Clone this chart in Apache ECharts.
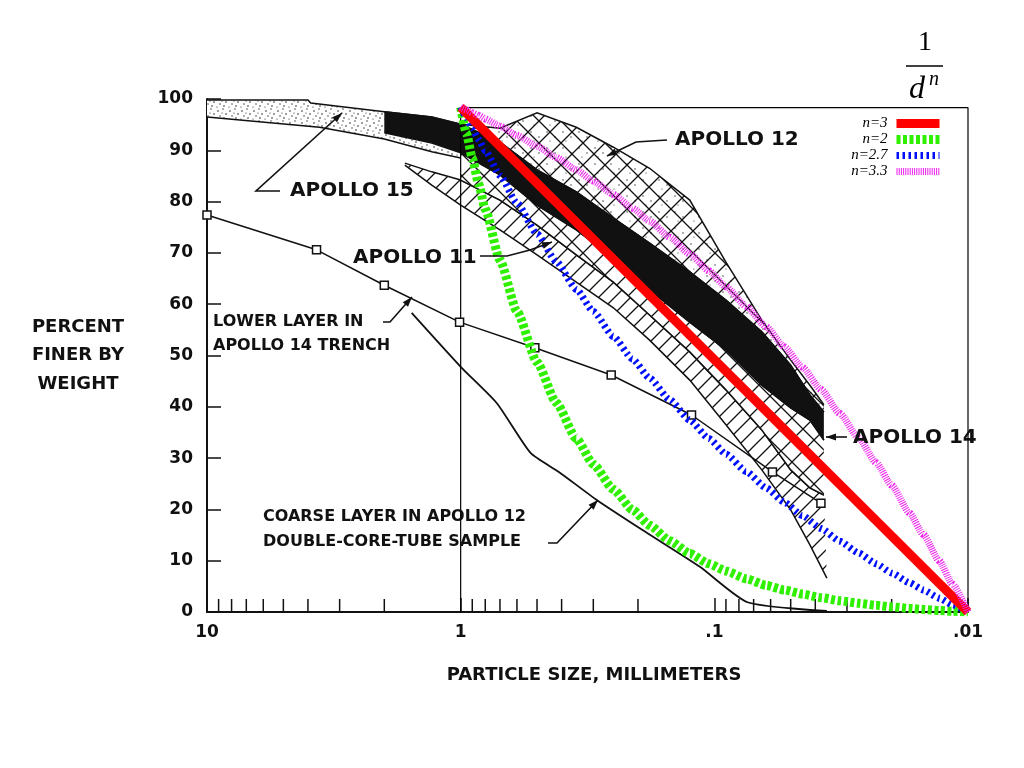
<!DOCTYPE html>
<html>
<head>
<meta charset="utf-8">
<script src="https://cdn.jsdelivr.net/npm/echarts@6/dist/echarts.min.js"></script>
<style>html,body{margin:0;background:#fff}#chart{width:1024px;height:768px}</style>
</head>
<body>
<div id="chart"></div>
<script>
// particle size (mm) on a reversed log axis, percent finer by weight on y
const xTickValues = [10, 1, 0.1, 0.01];
const xTickText = ["10", "1", ".1", ".01"];
const minorTicks = [9, 8, 7, 6, 5, 4, 3, 2, 0.9, 0.8, 0.7, 0.6, 0.5, 0.4, 0.3, 0.2, 0.09, 0.08, 0.07, 0.06, 0.05, 0.04, 0.03, 0.02];

// scanned curves
const lowerLayer = [[10, 77.4], [3.7, 70.6], [2, 63.7], [1.01, 56.5], [0.51, 51.5], [0.255, 46.2], [0.123, 38.4], [0.059, 27.3], [0.038, 21.2]];
const coarseLayer = [[1.56, 58.3], [1, 47.8], [0.72, 40.7], [0.53, 31.0], [0.41, 27.3], [0.29, 21.8], [0.184, 15.4], [0.114, 8.8], [0.074, 1.9], [0.036, 0.2]];

// scanned bands (upper / lower edges)
const apollo15Upper = [[10, 99.8], [4, 99.8], [3.9, 99.2], [2, 97.5], [1.3, 96.5], [1, 95.1]];
const apollo15Lower = [[10, 96.5], [3.6, 94.5], [2, 92.2], [1.3, 89.7], [1, 88.5]];
const apollo14Upper = [[2, 97.5], [1.3, 96.5], [1, 95.1], [0.7, 91.6], [0.5, 86.2], [0.35, 81.9], [0.25, 76.8], [0.18, 71.9], [0.125, 66.3], [0.09, 60.8], [0.065, 54.6], [0.05, 48.1], [0.042, 42.3], [0.037, 39.0]];
const apollo14Lower = [[2, 93.4], [1.3, 91.4], [1, 89.5], [0.7, 85.2], [0.5, 79.3], [0.35, 74.5], [0.25, 69.0], [0.18, 62.8], [0.125, 56.5], [0.09, 51.1], [0.065, 44.2], [0.05, 39.8], [0.042, 37.4], [0.037, 33.5]];
const apollo12Upper = [[1, 95.1], [0.7, 94.3], [0.5, 97.3], [0.35, 94.5], [0.25, 90.6], [0.18, 86.5], [0.125, 80.3], [0.09, 68.2], [0.065, 56.9], [0.05, 49.1], [0.042, 44.2], [0.037, 40.4]];
const apollo12Lower = [[1, 84.2], [0.7, 80.3], [0.5, 75.4], [0.35, 69.6], [0.25, 64.3], [0.18, 57.9], [0.125, 50.7], [0.09, 43.3], [0.065, 35.5], [0.05, 27.7], [0.042, 24.2], [0.037, 22.8]];
const apollo11Upper = [[1.66, 87.5], [1.3, 85.8], [1, 84.2], [0.7, 80.3], [0.5, 75.4], [0.35, 69.6], [0.25, 64.3], [0.18, 57.9], [0.125, 50.7], [0.09, 43.3], [0.065, 35.5], [0.05, 27.7], [0.042, 24.2], [0.037, 22.8]];
const apollo11Lower = [[1.66, 87.1], [1.3, 83.2], [1, 79.3], [0.7, 74.5], [0.5, 69.6], [0.35, 64.3], [0.25, 59.3], [0.18, 53.0], [0.125, 45.2], [0.09, 36.5], [0.065, 27.7], [0.05, 19.9], [0.042, 13.1], [0.036, 6.6]];

// overlaid 1/d^n curves
const overlaySizes = [1, 0.95, 0.9, 0.85, 0.8, 0.7, 0.6, 0.5, 0.42, 0.35, 0.3, 0.25, 0.21, 0.18, 0.15, 0.125, 0.105, 0.09, 0.075, 0.0625, 0.053, 0.045, 0.038, 0.032, 0.027, 0.023, 0.02, 0.017, 0.015, 0.013, 0.0115, 0.01];
const n2Values = [98.4, 93.4, 88.5, 83.5, 78.5, 68.6, 58.6, 48.7, 40.8, 33.8, 28.8, 23.9, 19.9, 16.9, 13.9, 11.4, 9.4, 8.0, 6.5, 5.2, 4.3, 3.5, 2.8, 2.2, 1.7, 1.3, 1.0, 0.7, 0.5, 0.3, 0.15, 0];
const n27Values = [98.4, 96.4, 94.3, 92.1, 89.9, 85.1, 79.7, 73.7, 68.3, 62.9, 58.6, 53.7, 49.3, 45.6, 41.4, 37.4, 33.8, 30.8, 27.4, 24.2, 21.4, 18.8, 16.3, 13.8, 11.5, 9.4, 7.6, 5.7, 4.3, 2.7, 1.4, 0];
const n33Values = [98.4, 97.9, 97.3, 96.8, 96.1, 94.7, 92.9, 90.8, 88.6, 86.2, 84.0, 81.4, 78.7, 76.2, 73.1, 69.8, 66.5, 63.4, 59.6, 55.6, 51.7, 47.7, 43.4, 38.7, 33.9, 29.1, 24.7, 19.3, 15.1, 10.0, 5.4, 0];
const n3Sizes = [1, 0.01];
const n3Values = [98.4, 0];
const overlayBox = [[1, 0], [1, 98.3], [0.01, 98.3], [0.01, 0]];

const INK = "#111";
const LABEL_FONT = '"DejaVu Sans", sans-serif';

// fill textures
function makeTile(size, draw, bg) {
  const c = document.createElement("canvas");
  c.width = c.height = size;
  const g = c.getContext("2d");
  if (bg) { g.fillStyle = bg; g.fillRect(0, 0, size, size); }
  draw(g, size);
  return { image: c, repeat: "repeat" };
}
function dots(list) {
  return (g) => {
    g.fillStyle = "#222";
    list.forEach(([x, y, r]) => { g.beginPath(); g.arc(x, y, r, 0, Math.PI * 2); g.fill(); });
  };
}
function hatch(up, down) {
  return (g, s) => {
    g.strokeStyle = INK; g.lineWidth = 1.3; g.beginPath();
    if (up) { g.moveTo(0, s); g.lineTo(s, 0); g.moveTo(-1, 1); g.lineTo(1, -1); g.moveTo(s - 1, s + 1); g.lineTo(s + 1, s - 1); }
    if (down) { g.moveTo(0, 0); g.lineTo(s, s); g.moveTo(s - 1, -1); g.lineTo(s + 1, 1); g.moveTo(-1, s - 1); g.lineTo(1, s + 1); }
    g.stroke();
  };
}
const denseDots = makeTile(12, dots([[2, 3, 0.8], [7, 1, 0.7], [10, 6, 0.8], [4, 8, 0.7], [8, 10, 0.8], [1, 11, 0.6], [6, 5, 0.6]]), "#fff");
const lightDots = makeTile(16, dots([[3, 4, 0.7], [11, 9, 0.7], [6, 13, 0.6]]), "#fff");
const gridHatch = makeTile(22, hatch(true, true));
const diagHatch = makeTile(16, hatch(true, false));

function band(upper, lower, fills, outline) {
  return {
    type: "custom",
    silent: true,
    data: [[1, 50]],
    renderItem: (params, api) => {
      const up = upper.map((p) => api.coord(p));
      const lo = lower.map((p) => api.coord(p));
      const poly = up.concat(lo.slice().reverse());
      const children = fills.map((f) => ({ type: "polygon", shape: { points: poly }, style: { fill: f, stroke: null } }));
      if (outline) {
        children.push({ type: "polyline", shape: { points: up }, style: { stroke: INK, lineWidth: 1.5, fill: null } });
        children.push({ type: "polyline", shape: { points: lo }, style: { stroke: INK, lineWidth: 1.5, fill: null } });
      }
      return { type: "group", children };
    },
  };
}

function zip(xs, ys) { return xs.map((x, i) => [x, ys[i]]); }

function overlay(name, color, width, type, xs, ys) {
  return {
    name, type: "line", data: zip(xs, ys), symbol: "none", smooth: 0.2, smoothMonotone: "x",
    lineStyle: { color, width, type, cap: "butt" }, itemStyle: { color }, z: 5,
  };
}

function text(str, x, y, size, align) {
  return { type: "text", x, y, z: 20, style: { text: str, font: "bold " + size + "px " + LABEL_FONT, fill: INK, align: align || "left", verticalAlign: "middle" } };
}
function arrow(points) {
  const [x1, y1] = points[points.length - 2];
  const [x2, y2] = points[points.length - 1];
  const a = Math.atan2(y2 - y1, x2 - x1), L = 10, W = 3.5;
  const head = [[x2, y2],
    [x2 - L * Math.cos(a) + W * Math.sin(a), y2 - L * Math.sin(a) - W * Math.cos(a)],
    [x2 - L * Math.cos(a) - W * Math.sin(a), y2 - L * Math.sin(a) + W * Math.cos(a)]];
  return [
    { type: "polyline", z: 20, shape: { points }, style: { stroke: INK, lineWidth: 1.6, fill: null } },
    { type: "polygon", z: 20, shape: { points: head }, style: { fill: INK } },
  ];
}

const chart = echarts.init(document.getElementById("chart"));
chart.setOption({
  animation: false,
  backgroundColor: "#fff",
  grid: { left: 207, right: 56, top: 99, bottom: 156 },
  legend: {
    data: ["n=3", "n=2", "n=2.7", "n=3.3"],
    orient: "vertical", right: 75, top: 111, align: "right",
    itemWidth: 43, itemHeight: 10, itemGap: 1,
    itemStyle: { opacity: 0 },
    lineStyle: { width: "inherit" },
    textStyle: { fontFamily: '"Liberation Serif", serif', fontStyle: "italic", fontSize: 15, lineHeight: 13, color: "#000", padding: [0, 4, 0, 0] },
  },
  xAxis: {
    type: "log", logBase: 10, min: 0.01, max: 10, inverse: true,
    axisLine: { lineStyle: { color: INK, width: 2 } },
    axisTick: { inside: true, length: 14, lineStyle: { color: INK, width: 1.5 } },
    splitLine: { show: false },
    axisLabel: {
      margin: 12, color: INK, fontFamily: LABEL_FONT, fontWeight: "bold", fontSize: 17,
      formatter: (v) => {
        let best = 0;
        xTickValues.forEach((t, i) => { if (Math.abs(Math.log10(t) - Math.log10(v)) < Math.abs(Math.log10(xTickValues[best]) - Math.log10(v))) best = i; });
        return xTickText[best];
      },
    },
  },
  yAxis: {
    type: "value", min: 0, max: 100, interval: 10,
    axisLine: { show: true, lineStyle: { color: INK, width: 2 } },
    axisTick: { show: true, inside: true, length: 14, lineStyle: { color: INK, width: 1.5 } },
    splitLine: { show: false },
    axisLabel: { margin: 14, color: INK, fontFamily: LABEL_FONT, fontWeight: "bold", fontSize: 17 },
  },
  series: [
    band(apollo11Upper, apollo11Lower, ["#fff", diagHatch], true),
    band(apollo14Lower.filter((p) => p[0] <= 1), apollo12Lower, ["#fff", gridHatch], true),
    band(apollo12Upper, apollo14Upper.filter((p) => p[0] <= 1), [lightDots, gridHatch], true),
    band(apollo15Upper, apollo15Lower, [denseDots], true),
    band(apollo14Upper, apollo14Lower, [INK], true),
    {
      type: "custom", silent: true, data: minorTicks.map((v) => [v, 0]), z: 3,
      renderItem: (params, api) => {
        const p = api.coord([api.value(0), 0]);
        return { type: "line", shape: { x1: p[0], y1: p[1], x2: p[0], y2: p[1] - 13 }, style: { stroke: INK, lineWidth: 1.5 } };
      },
    },
    { type: "line", data: lowerLayer, symbol: "rect", symbolSize: 8, lineStyle: { color: INK, width: 1.5 }, itemStyle: { color: "#fff", borderColor: INK, borderWidth: 1.5 }, z: 4 },
    { type: "line", data: coarseLayer, symbol: "none", smooth: 0.2, lineStyle: { color: INK, width: 1.8 }, z: 4 },
    { type: "line", data: overlayBox, symbol: "none", lineStyle: { color: "#000", width: 1.2 }, z: 4 },
    overlay("n=2", "#2ef000", 9, [4, 2.5], overlaySizes, n2Values),
    overlay("n=2.7", "#0010ff", 7, [2.5, 3.5], overlaySizes, n27Values),
    overlay("n=3", "#ff0000", 9, "solid", n3Sizes, n3Values),
    overlay("n=3.3", "#ee22ee", 7, [1, 1.2], overlaySizes, n33Values),
  ],
  graphic: [
    text("APOLLO 15", 290, 191, 20),
    text("APOLLO 12", 675, 140, 20),
    text("APOLLO 11", 353, 258, 20),
    text("APOLLO 14", 853, 438, 20),
    text("LOWER LAYER IN", 213, 322, 16),
    text("APOLLO 14 TRENCH", 213, 346, 16),
    text("COARSE LAYER IN APOLLO 12", 263, 517, 16),
    text("DOUBLE-CORE-TUBE SAMPLE", 263, 542, 16),
    text("PERCENT", 78, 327, 18, "center"),
    text("FINER BY", 78, 355, 18, "center"),
    text("WEIGHT", 78, 384, 18, "center"),
    text("PARTICLE SIZE, MILLIMETERS", 594, 675, 18, "center"),
    ...arrow([[256, 191], [280, 191], [256, 191], [342, 113]]),
    ...arrow([[667, 140], [636, 142], [607, 156]]),
    ...arrow([[480, 256], [507, 256], [530, 250], [552, 242]]),
    ...arrow([[383, 322], [390, 322], [412, 297]]),
    ...arrow([[548, 543], [557, 543], [598, 500]]),
    ...arrow([[847, 437], [826, 437]]),
    { type: "text", x: 925, y: 43, z: 20, style: { text: "1", font: '28px "Liberation Serif", serif', fill: "#000", align: "center", verticalAlign: "middle" } },
    { type: "line", z: 20, shape: { x1: 906, y1: 66, x2: 943, y2: 66 }, style: { stroke: "#000", lineWidth: 1.5 } },
    { type: "text", x: 917, y: 90, z: 20, style: { text: "d", font: 'italic 32px "Liberation Serif", serif', fill: "#000", align: "center", verticalAlign: "middle" } },
    { type: "text", x: 934, y: 80, z: 20, style: { text: "n", font: 'italic 20px "Liberation Serif", serif', fill: "#000", align: "center", verticalAlign: "middle" } },
  ],
});
</script>
</body>
</html>
